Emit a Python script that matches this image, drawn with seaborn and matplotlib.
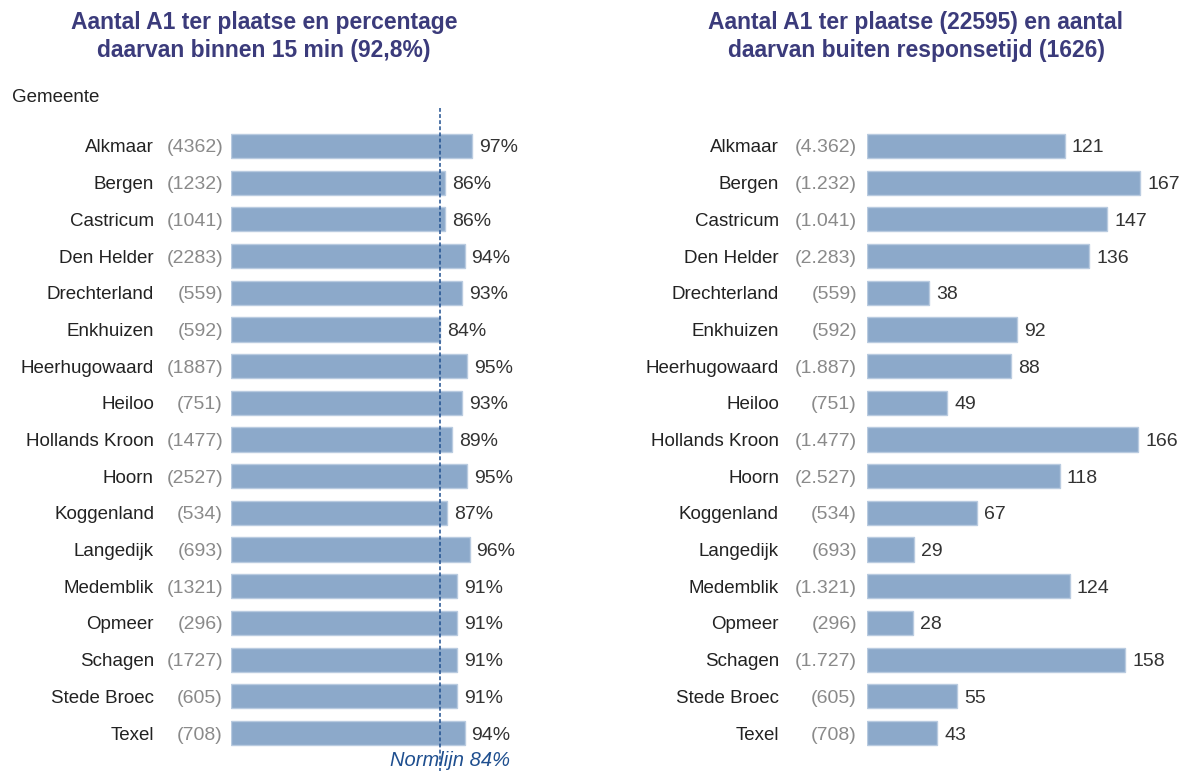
import numpy as np
import matplotlib
matplotlib.use("Agg")
import matplotlib.pyplot as plt
import matplotlib.transforms as mtransforms
import seaborn as sns

gemeenten = ["Alkmaar", "Bergen", "Castricum", "Den Helder", "Drechterland", "Enkhuizen",
             "Heerhugowaard", "Heiloo", "Hollands Kroon", "Hoorn", "Koggenland", "Langedijk",
             "Medemblik", "Opmeer", "Schagen", "Stede Broec", "Texel"]
aantal = [4362, 1232, 1041, 2283, 559, 592, 1887, 751, 1477, 2527, 534, 693, 1321, 296, 1727, 605, 708]
pct_binnen = [97, 86, 86, 94, 93, 84, 95, 93, 89, 95, 87, 96, 91, 91, 91, 91, 94]
buiten = [121, 167, 147, 136, 38, 92, 88, 49, 166, 118, 67, 29, 124, 28, 158, 55, 43]
normlijn = 84

sns.set_style("white")
plt.rcParams["font.family"] = ["Liberation Sans", "DejaVu Sans"]

bar_color = "#8ca9ca"
edge_color = "#b9cbe0"
title_color = "#3b3b7b"
norm_color = "#1f4f8f"

W, H = 1183, 771
fig = plt.figure(figsize=(W / 100, H / 100), dpi=100)


def px_axes(x0, y_top, width, height):
    return fig.add_axes([x0 / W, 1 - (y_top + height) / H, width / W, height / H])


row0, step = 146, 36.69
top = row0 - step / 2
height = step * len(gemeenten)

ax1 = px_axes(231, top, 248.5, height)
ax2 = px_axes(867, top, 1.635 * 170, height)

sns.barplot(x=pct_binnen, y=gemeenten, orient="h", ax=ax1, color=bar_color,
            saturation=1, width=0.66, edgecolor=edge_color, linewidth=1)
sns.barplot(x=buiten, y=gemeenten, orient="h", ax=ax2, color=bar_color,
            saturation=1, width=0.66, edgecolor=edge_color, linewidth=1)

ax1.set_xlim(0, 100)
ax2.set_xlim(0, 170)
for ax in (ax1, ax2):
    ax.set_ylim(len(gemeenten) - 0.5, -0.5)
    ax.axis("off")

name_fs = 13.5
num_fs = 14
va = "center_baseline"

# labels left chart
tr1 = mtransforms.blended_transform_factory(fig.transFigure, ax1.transData)
for i, (g, n, p) in enumerate(zip(gemeenten, aantal, pct_binnen)):
    ax1.text(154 / W, i, g, transform=tr1, ha="right", va=va, fontsize=name_fs, color="#222222")
    ax1.text(223 / W, i, f"({n})", transform=tr1, ha="right", va=va, fontsize=num_fs, color="#8a8a8a")
    ax1.annotate(f"{p}%", xy=(p, i), xytext=(7, 0), textcoords="offset pixels",
                 ha="left", va=va, fontsize=num_fs, color="#333333")

# labels right chart
tr2 = mtransforms.blended_transform_factory(fig.transFigure, ax2.transData)
for i, (g, n, b) in enumerate(zip(gemeenten, aantal, buiten)):
    ax2.text(779 / W, i, g, transform=tr2, ha="right", va=va, fontsize=name_fs, color="#222222")
    ax2.text(857 / W, i, "(" + f"{n:,}".replace(",", ".") + ")", transform=tr2,
             ha="right", va=va, fontsize=num_fs, color="#8a8a8a")
    ax2.annotate(str(b), xy=(b, i), xytext=(7, 0), textcoords="offset pixels",
                 ha="left", va=va, fontsize=num_fs, color="#333333")

# normlijn
y_a = (108 - row0) / step
y_b = (771 - row0) / step
ax1.plot([normlijn, normlijn], [y_a, y_b], color=norm_color, linewidth=1.1,
         linestyle=(0, (2.5, 1.5)), clip_on=False)
ax1.annotate(f"Normlijn {normlijn}%", xy=(normlijn, (760 - row0) / step), xytext=(10, 0),
             textcoords="offset pixels", ha="center", va="center", fontsize=14.5,
             style="italic", color=norm_color, annotation_clip=False)

fig.text(12 / W, 1 - 98 / H, "Gemeente", ha="left", va="center", fontsize=name_fs, color="#222222")

title_fs = 16.5
fig.text(264 / W, 1 - 22 / H, "Aantal A1 ter plaatse en percentage", ha="center", va="center",
         fontsize=title_fs, fontweight="bold", color=title_color)
fig.text(264 / W, 1 - 50 / H, "daarvan binnen 15 min (92,8%)", ha="center", va="center",
         fontsize=title_fs, fontweight="bold", color=title_color)
fig.text(916 / W, 1 - 22 / H, "Aantal A1 ter plaatse (22595) en aantal", ha="center", va="center",
         fontsize=title_fs, fontweight="bold", color=title_color)
fig.text(916 / W, 1 - 50 / H, "daarvan buiten responsetijd (1626)", ha="center", va="center",
         fontsize=title_fs, fontweight="bold", color=title_color)

fig.savefig("out.png", dpi=100, facecolor="white")
